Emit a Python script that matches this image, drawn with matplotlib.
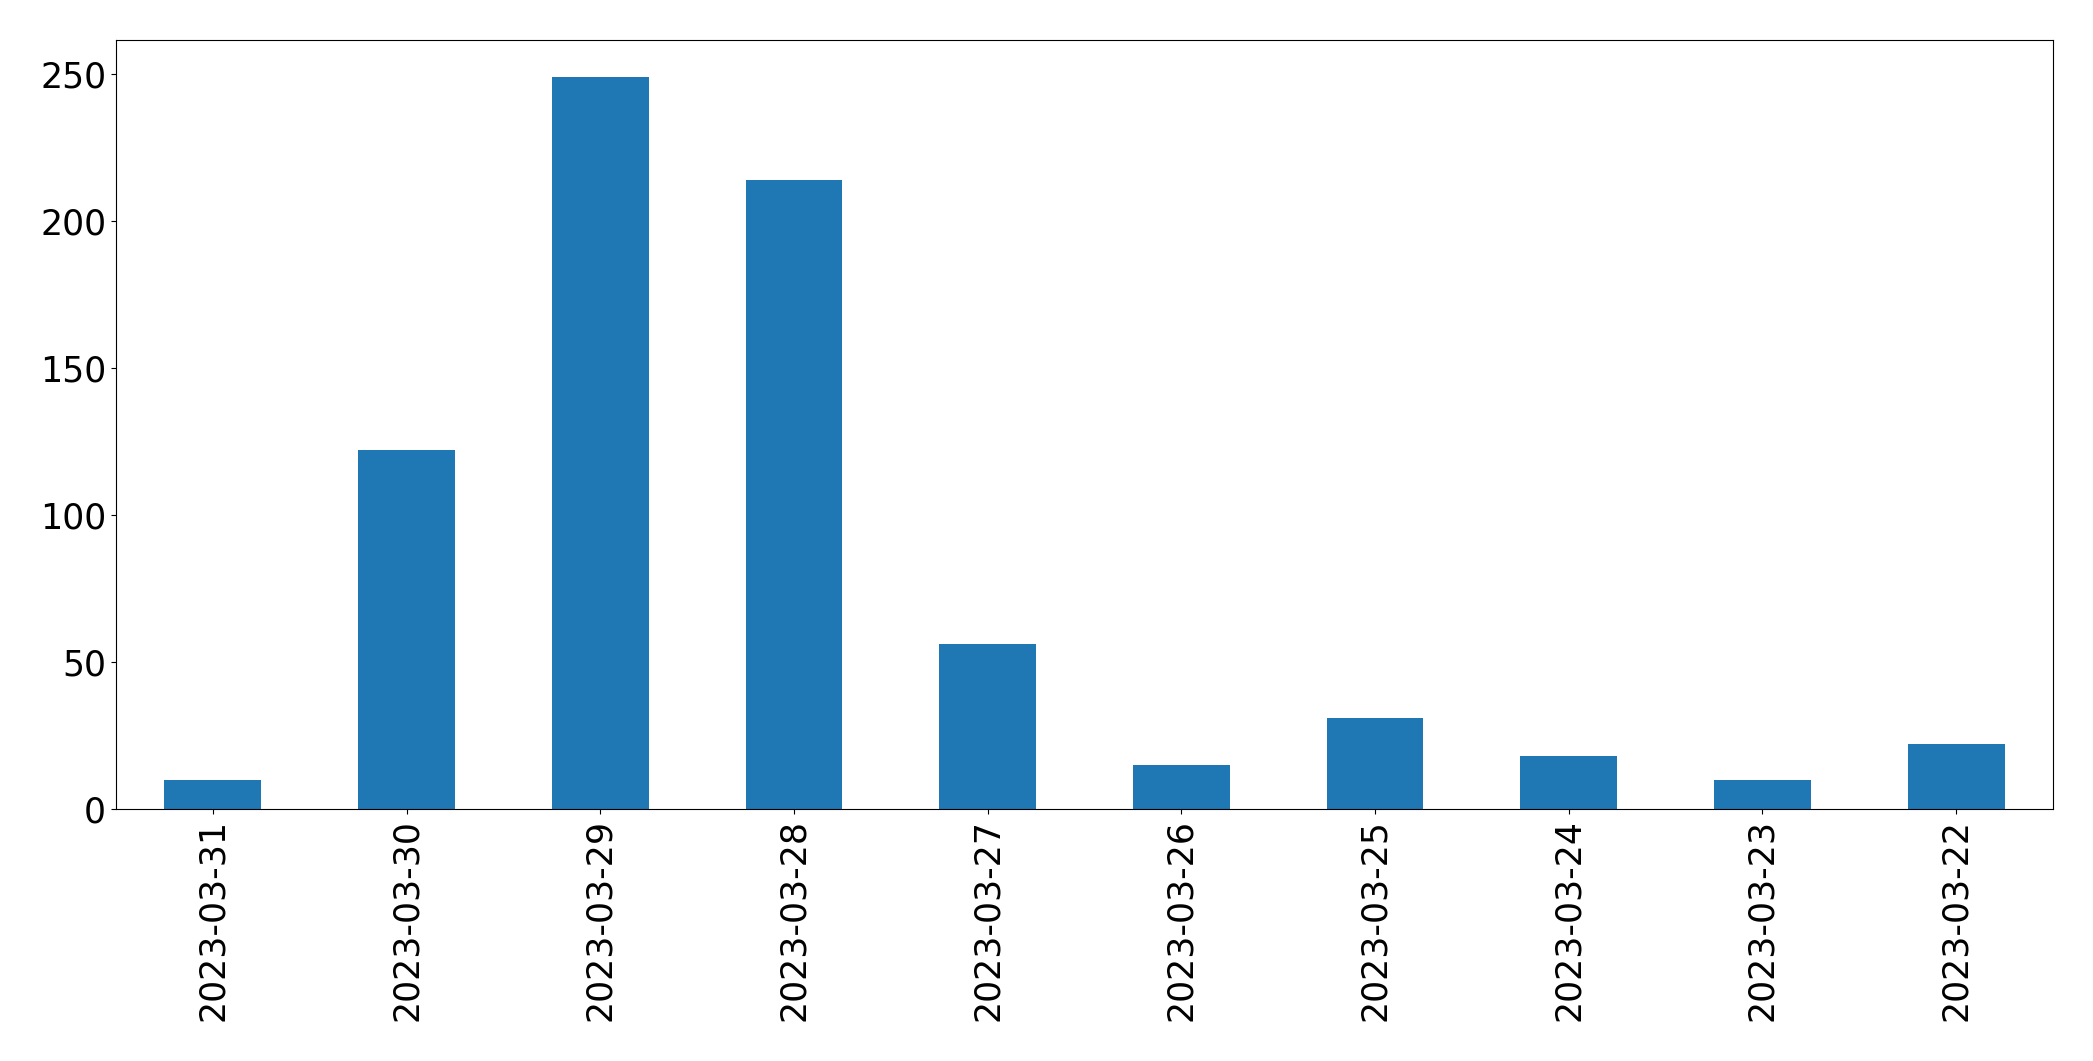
import numpy as np
import pandas as pd
import matplotlib
matplotlib.use("Agg")
import matplotlib.pyplot as plt

dates = ["2023-03-31", "2023-03-30", "2023-03-29", "2023-03-28", "2023-03-27",
         "2023-03-26", "2023-03-25", "2023-03-24", "2023-03-23", "2023-03-22"]
counts = [10, 122, 249, 214, 56, 15, 31, 18, 10, 22]

s = pd.Series(counts, index=dates)

fig = plt.figure(figsize=(20.93, 10.61), dpi=100)
ax = fig.add_axes([0.0554, 0.2375, 0.9255, 0.7245])
s.plot(kind="bar", ax=ax, color="#1f77b4")
ax.tick_params(axis="both", labelsize=25)

fig.savefig("out.png", dpi=100)
